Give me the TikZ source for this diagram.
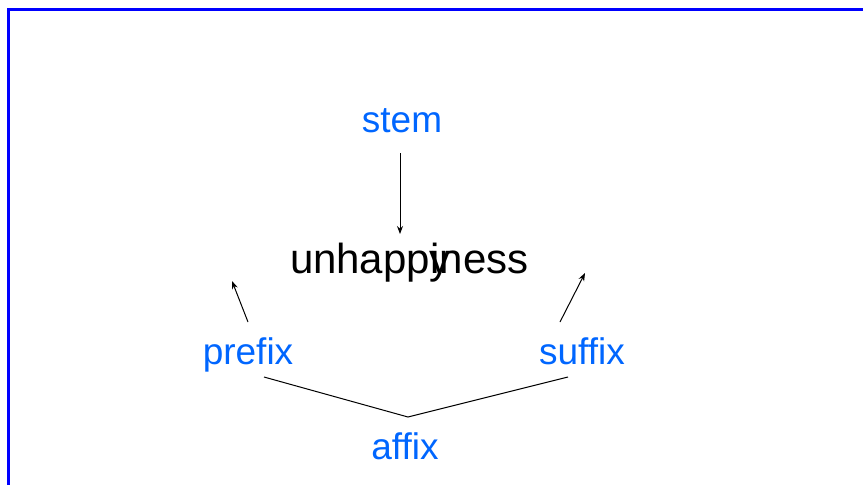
\documentclass[tikz,border=0pt]{standalone}
\usepackage{fontspec}
\setmainfont{Liberation Sans}
\definecolor{labelblue}{RGB}{0,102,255}
\definecolor{frameblue}{RGB}{0,0,255}
\tikzset{
  lbl/.style={anchor=base,text=labelblue,font=\fontsize{18.5}{22}\selectfont},
  part/.style={anchor=base west,inner sep=0pt,font=\fontsize{21}{26}\selectfont},
  link/.style={line width=0.5pt},
  tip/.style={-{Stealth[length=4pt,width=3pt]},line width=0.5pt}
}
\usetikzlibrary{arrows.meta}
\begin{document}
\begin{tikzpicture}[x=0.5pt,y=-0.5pt]
      \useasboundingbox (0,0) rectangle (863,484);
      \draw[frameblue,line width=1.5pt] (8,9.5) rectangle (900,530);
      \draw
        (402,132) node[lbl] (stem){stem}
        (248,364) node[lbl] (prefix){prefix}
        (582,364) node[lbl] (suffix){suffix}
        (405,459) node[lbl] (affix){affix}
        (290,273) node[part] (un){un}
        (336,273) node[part] (happy){happy}
        (430,273) node[part] (iness){iness};
      \coordinate (s0) at (400,153);
      \coordinate (s1) at (400,234);
      \coordinate (p0) at (248,322);
      \coordinate (p1) at (232,281);
      \coordinate (x0) at (560,322);
      \coordinate (x1) at (585,273);
      \coordinate (a0) at (264,377);
      \coordinate (a1) at (408,417);
      \coordinate (a2) at (568,377);
      \begin{scope}[tip]
        \draw (s0) to (s1);
        \draw (p0) to (p1);
        \draw (x0) to (x1);
      \end{scope}
      \draw[link] (a0) -- (a1) -- (a2);
    \end{tikzpicture}
\end{document}
